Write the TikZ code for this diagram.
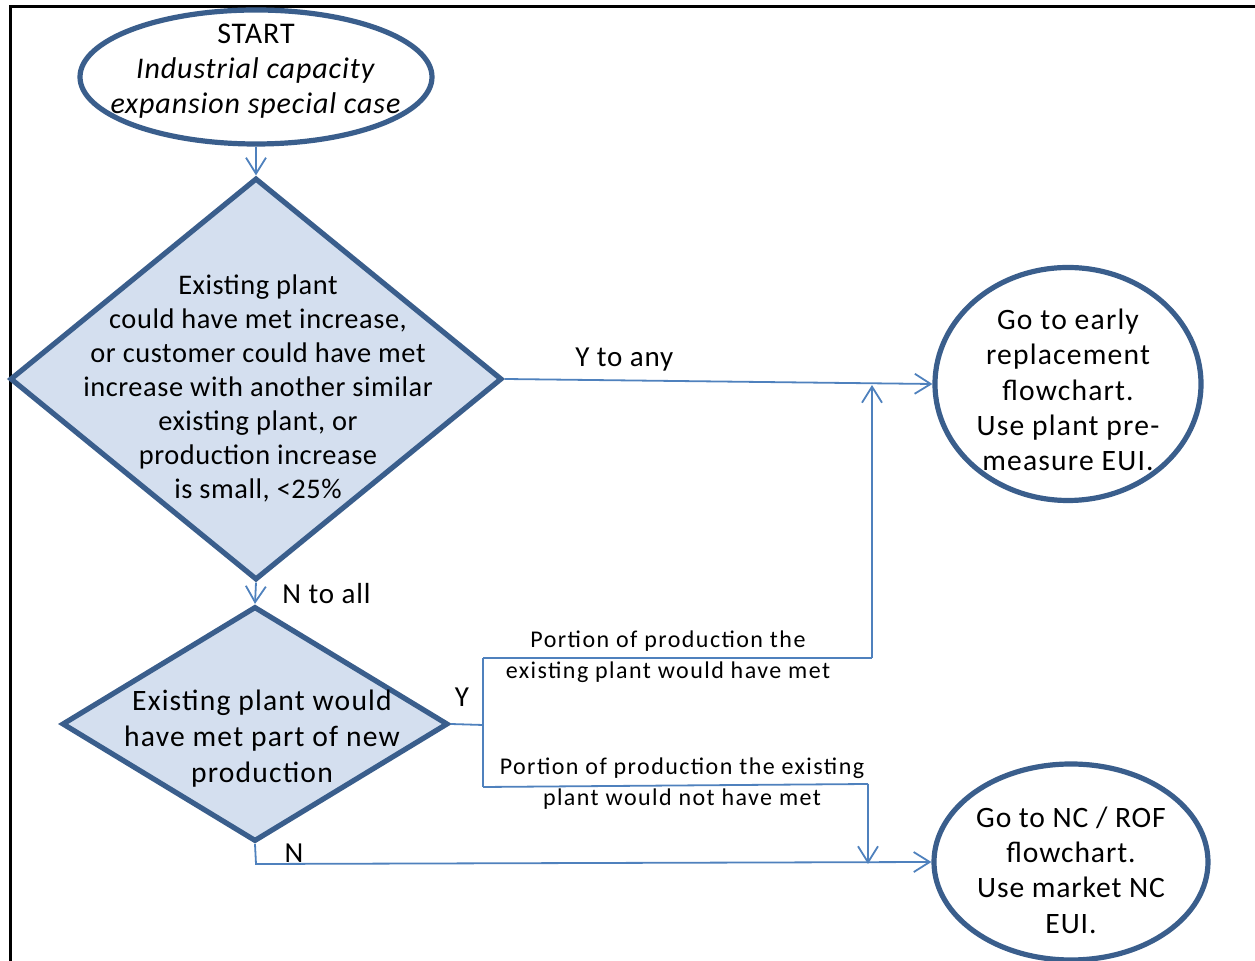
\documentclass[tikz,border=0pt]{standalone}
\usepackage{fontspec}
\setmainfont{Carlito}
\usepackage{tikz}
\usetikzlibrary{arrows.meta, positioning, calc, shapes.geometric}

\definecolor{shapeedge}{RGB}{58,94,140}
\definecolor{shapefill}{RGB}{212,223,239}
\definecolor{flowline}{RGB}{79,129,189}

\begin{document}
\begin{tikzpicture}[x=0.5pt, y=-0.5pt,
	terminal/.style={ellipse, draw=shapeedge, line width=2.6pt, fill=white, inner sep=0pt},
	decision/.style={diamond, draw=shapeedge, line width=2.6pt, fill=shapefill, inner sep=0pt, aspect=1},
	txt/.style={align=center, inner sep=0pt, font=\fontsize{14.5}{17.5}\selectfont\addfontfeatures{LetterSpace=3}},
	smalltxt/.style={align=center, inner sep=0pt, font=\fontsize{12}{15.5}\selectfont\addfontfeatures{LetterSpace=6}},
	flow/.style={draw=flowline, line width=0.9pt},
	arr/.style={flow, -{Straight Barb[length=8pt, width=10pt, line width=0.9pt]}}]
	\useasboundingbox (0,0) rectangle (1255,961);
	\draw[line width=1.5pt] (10,961) -- (10,7) -- (1255,7);

	\node[terminal, minimum width=176pt, minimum height=67pt] (start) at (256,77) {};
	\node[txt, font=\fontsize{15}{17.5}\selectfont\addfontfeatures{LetterSpace=3}] (starttxt) at (256,71) {START\\\textit{Industrial capacity}\\\textit{expansion special case}};

	\node[decision, minimum width=246pt, minimum height=201pt] (plant) at (256,379) {};
	\node[txt, font=\fontsize{14.2}{17}\selectfont\addfontfeatures{LetterSpace=2}] (planttxt) at (258,388) {Existing plant\\could have met increase,\\or customer could have met\\increase with another similar\\existing plant, or\\production increase\\is small, <25\%};

	\node[decision, minimum width=193pt, minimum height=117.5pt] (part) at (255,724) {};
	\node[txt, font=\fontsize{14.8}{18}\selectfont\addfontfeatures{LetterSpace=4}] (parttxt) at (262,739) {Existing plant would\\have met part of new\\production};

	\node[terminal, minimum width=133pt, minimum height=116.5pt] (early) at (1068,384) {};
	\node[txt, font=\fontsize{14.8}{17.7}\selectfont\addfontfeatures{LetterSpace=4}] (earlytxt) at (1068,390) {Go to early\\replacement\\flowchart.\\Use plant pre-\\measure EUI.};

	\node[terminal, minimum width=137pt, minimum height=98pt] (newc) at (1071,862) {};
	\node[txt, font=\fontsize{14.8}{17.7}\selectfont\addfontfeatures{LetterSpace=3}] (newctxt) at (1071,870) {Go to NC / ROF\\flowchart.\\Use market NC\\EUI.};

	\coordinate (split) at (483,725);
	\coordinate (splittop) at (483,658);
	\coordinate (splitbot) at (483,787);
	\coordinate (metup) at (872,658);
	\coordinate (metjoin) at (872,385);
	\coordinate (notmet) at (868,784);
	\coordinate (notjoin) at (868,864);
	\coordinate (nbend) at (256,864);

	\draw[arr] (start.south) -- (plant.north);
	\draw[arr] (plant.east) -- (early.west) node[pos=0.28, above=4pt, txt] (yany) {Y to any};
	\draw[arr] (plant.south) -- (part.north) node[pos=0.5, right=13pt, txt] (nall) {N to all};

	\draw[flow] (part.east) -- (split) node[pos=0.35, above=8.5pt, txt] (ylab) {Y};
	\draw[flow] (splittop) -- (splitbot);
	\draw[flow] (splittop) -- (metup);
	\draw[arr] (metup) -- (metjoin);
	\draw[flow] (splitbot) -- (notmet);
	\draw[arr] (notmet) -- (notjoin);
	\draw[arr] (part.south) -- (nbend) -- (newc.west);

	\node[smalltxt] (metlab) at (668,657) {Portion of production the\\existing plant would have met};
	\node[smalltxt] (notlab) at (682,784) {Portion of production the existing\\plant would not have met};
	\node[txt] (nlab) at (294,853) {N};
\end{tikzpicture}
\end{document}
